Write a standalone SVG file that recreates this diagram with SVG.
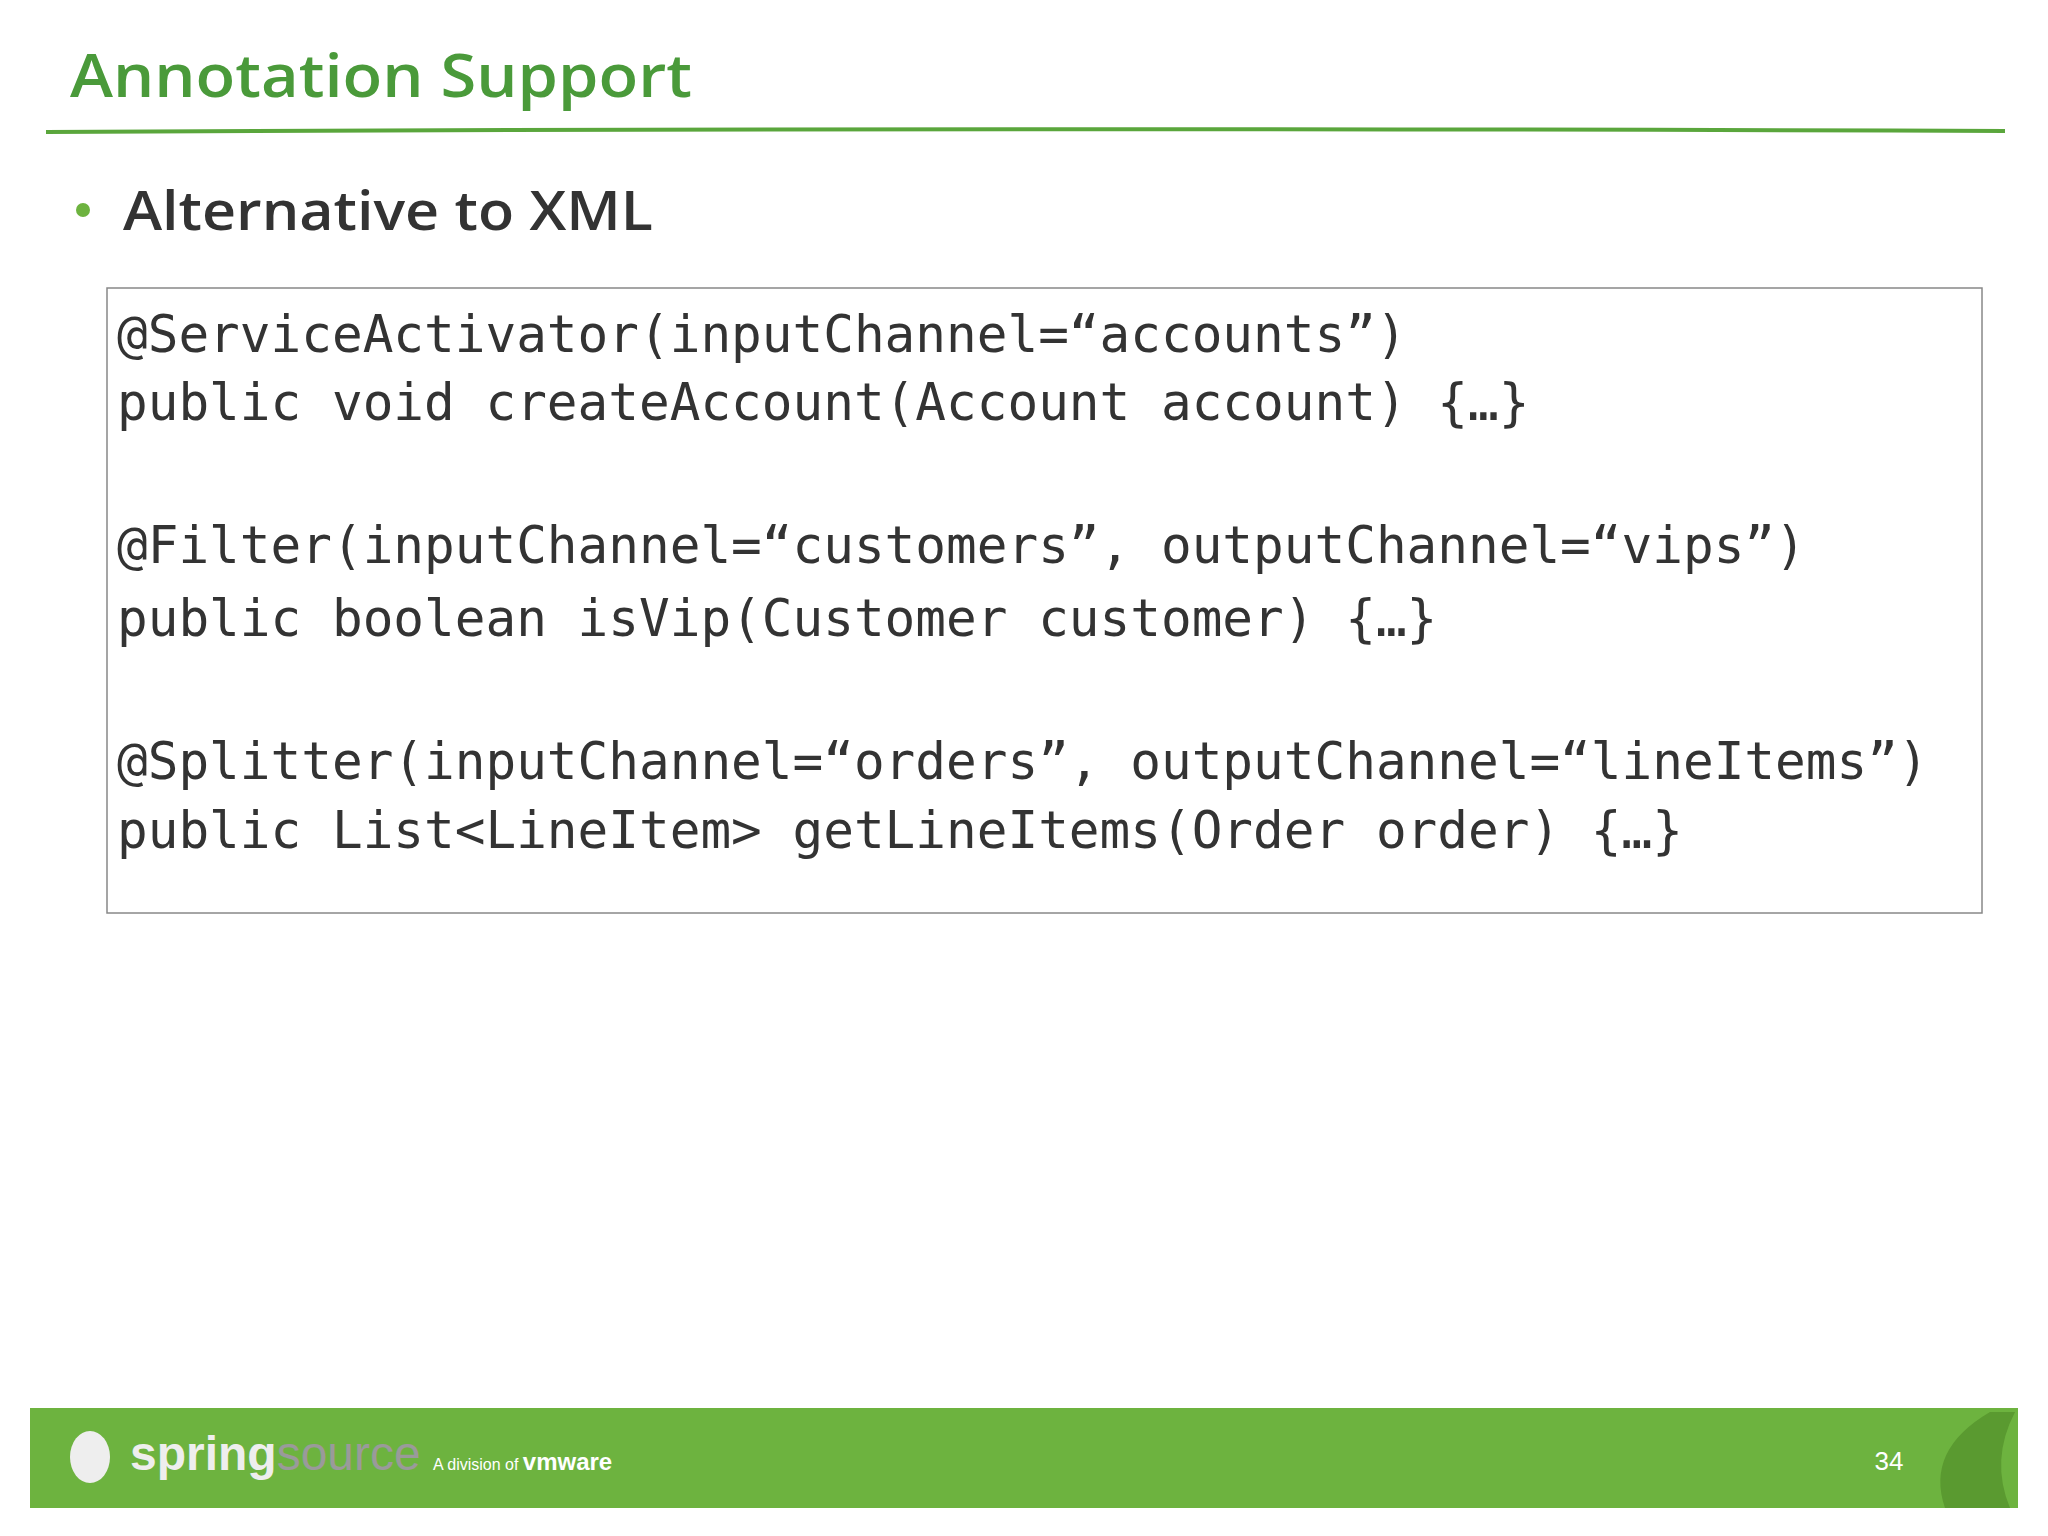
<svg xmlns="http://www.w3.org/2000/svg" width="2048" height="1536" viewBox="0 0 2048 1536">
<style>
.code{font-family:"DejaVu Sans Mono",monospace;font-size:51px;fill:#333}
</style>
<rect width="2048" height="1536" fill="#fff"/>
<g id="title"><text x="70" y="97" font-family="'Open Sans','Liberation Sans',sans-serif" font-size="60" font-weight="600" fill="#4a9a3a" textLength="622" lengthAdjust="spacingAndGlyphs">Annotation Support</text>
<path d="M46 132 Q1000 127 2005 131" stroke="#5aa63c" stroke-width="4" fill="none"/></g>
<g id="bullet"><circle cx="83" cy="210" r="7" fill="#6db33f"/>
<text x="123" y="230" font-family="'Open Sans','Liberation Sans',sans-serif" font-size="55" font-weight="600" fill="#333" textLength="530" lengthAdjust="spacingAndGlyphs">Alternative to XML</text></g>
<g id="code"><rect x="107" y="288" width="1875" height="625" fill="#fff" stroke="#888" stroke-width="1.5"/>
<text class="code" x="117" y="352">@ServiceActivator(inputChannel=“accounts”)</text>
<text class="code" x="117" y="420">public void createAccount(Account account) {…}</text>
<text class="code" x="117" y="563">@Filter(inputChannel=“customers”, outputChannel=“vips”)</text>
<text class="code" x="117" y="636">public boolean isVip(Customer customer) {…}</text>
<text class="code" x="117" y="779">@Splitter(inputChannel=“orders”, outputChannel=“lineItems”)</text>
<text class="code" x="117" y="848">public List&lt;LineItem&gt; getLineItems(Order order) {…}</text></g>
<g id="footer"><rect x="30" y="1408" width="1988" height="100" fill="#6db33f"/>
<ellipse cx="90" cy="1457" rx="20" ry="26" fill="#eee"/>
<text x="130" y="1470" font-family="'Liberation Sans',sans-serif" font-size="48" font-weight="bold" fill="#eee">spring<tspan font-weight="normal" fill="#9a9a9a">source</tspan></text>
<text x="433" y="1470" font-family="'Liberation Sans',sans-serif" font-size="16" fill="#fff">A division of <tspan font-size="24" font-weight="bold">vmware</tspan></text>
<text x="1889" y="1470" font-family="'Liberation Sans',sans-serif" font-size="26" fill="#fff" text-anchor="middle">34</text>
<path d="M1990 1412 Q1925 1450 1945 1508 L2010 1508 Q1990 1460 2015 1412 Z" fill="#5a9a30"/></g>
</svg>
